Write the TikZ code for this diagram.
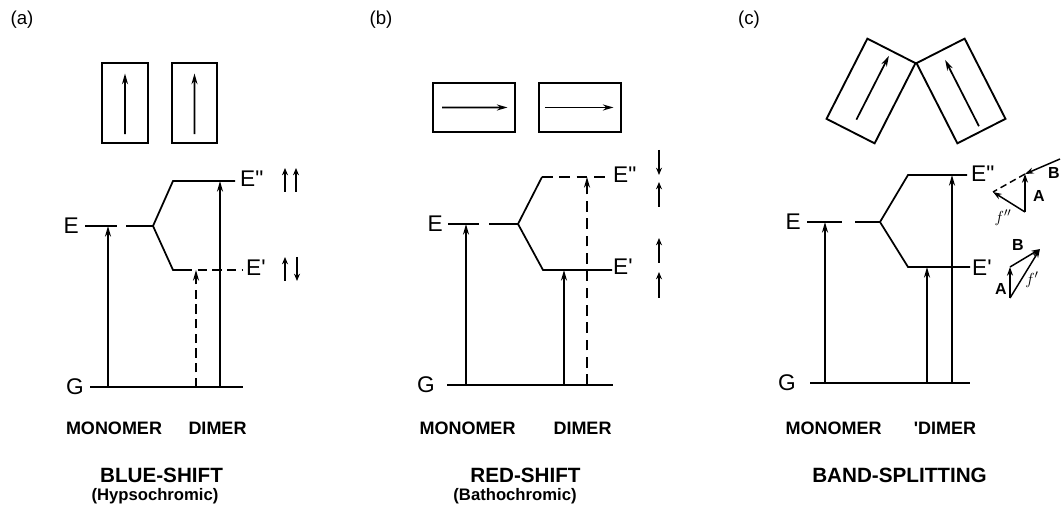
\documentclass[tikz,border=0pt]{standalone}
\usepackage{fontspec}
\setmainfont{Liberation Sans}
\usetikzlibrary{arrows.meta, calc}

\begin{document}
\begin{tikzpicture}[x=0.75pt, y=-0.75pt, line width=1.3pt,
  tag/.style={font=\fontsize{14}{16}\selectfont},
  lvl/.style={font=\fontsize{17}{20}\selectfont, inner sep=1pt},
  species/.style={font=\fontsize{13.5}{16}\selectfont\bfseries, inner sep=0pt},
  shiftlab/.style={font=\fontsize{15.5}{18}\selectfont\bfseries, inner sep=0pt},
  kind/.style={font=\fontsize{12.5}{14}\selectfont\bfseries, inner sep=0pt},
  vlab/.style={font=\fontsize{12}{14}\selectfont\bfseries, inner sep=0pt},
  flab/.style={font=\fontsize{13}{14}\selectfont, inner sep=0pt},
  dipbox/.style={draw, line width=1.4pt, inner sep=0pt},
  trans/.style={-{Stealth[length=8pt,width=4.5pt]}},
  spin/.style={-{Stealth[length=5.5pt,width=4.5pt]}, line width=1.6pt},
  vec/.style={-{Stealth[length=6.5pt,width=4.5pt]}, line width=1.1pt}]
  \useasboundingbox (0,0) rectangle (1061,505);

  % ---------------- (a) blue-shift
  \node[tag] (tagA) at (22,20) {(a)};
  \node[dipbox, minimum width=34pt, minimum height=60pt] (boxA1) at (125,103) {};
  \node[dipbox, minimum width=34pt, minimum height=60pt] (boxA2) at (194.5,103) {};
  \draw[trans] ($(boxA1.south)!0.12!(boxA1.north)$) -- ($(boxA1.south)!0.86!(boxA1.north)$);
  \draw[trans] ($(boxA2.south)!0.12!(boxA2.north)$) -- ($(boxA2.south)!0.86!(boxA2.north)$);

  \coordinate (aE0) at (85,226);   \coordinate (aE1) at (117,226);
  \coordinate (aE2) at (126,226);  \coordinate (aS) at (153,226);
  \coordinate (aU) at (173,181);   \coordinate (aU1) at (235,181);
  \coordinate (aD) at (173,270);   \coordinate (aD1) at (183,270);
  \coordinate (aD2) at (242,270);
  \coordinate (aG0) at (90,387);   \coordinate (aG1) at (243,387);
  \draw (aE0) -- (aE1);
  \draw (aE2) -- (aS) -- (aU) -- (aU1);
  \draw (aS) -- (aD) -- (aD1);
  \draw[dashed, dash pattern=on 7pt off 4pt] (aD1) -- (aD2);
  \draw (aG0) -- (aG1);
  \node[lvl, anchor=east] (aE) at (81,226) {E};
  \node[lvl, anchor=east] (aG) at (86,387) {G};
  \node[lvl, anchor=west] (aEpp) at (238,179) {E\textquotedbl};
  \node[lvl, anchor=west] (aEp) at (244,268) {E\textquotesingle};

  \coordinate (aM0) at (108,387);  \coordinate (aM1) at (108,226);
  \coordinate (aL0) at (196,387);  \coordinate (aL1) at (196,270);
  \coordinate (aH0) at (220,387);  \coordinate (aH1) at (220,181);
  \draw[trans] (aM0) -- (aM1);
  \draw[trans, dashed, dash pattern=on 7pt off 4pt] (aL0) -- (aL1);
  \draw[trans] (aH0) -- (aH1);

  \coordinate (as1) at (285,192);  \coordinate (as1t) at (285,168);
  \coordinate (as2) at (296,192);  \coordinate (as2t) at (296,168);
  \coordinate (as3) at (285,281);  \coordinate (as3t) at (285,257);
  \coordinate (as4) at (297,257);  \coordinate (as4t) at (297,281);
  \draw[spin] (as1) -- (as1t);
  \draw[spin] (as2) -- (as2t);
  \draw[spin] (as3) -- (as3t);
  \draw[spin] (as4) -- (as4t);

  \node[species] (aMon) at (114,428) {MONOMER};
  \node[species] (aDim) at (217.5,428) {DIMER};
  \node[shiftlab] (aShift) at (161.5,475) {BLUE-SHIFT};
  \node[kind] (aKind) at (155,496) {(Hypsochromic)};

  % ---------------- (b) red-shift
  \node[tag] (tagB) at (381,20) {(b)};
  \node[dipbox, minimum width=61.5pt, minimum height=37pt] (boxB1) at (474,107.5) {};
  \node[dipbox, minimum width=61.5pt, minimum height=37pt] (boxB2) at (580,107.5) {};
  \draw[trans] ($(boxB1.west)!0.12!(boxB1.east)$) -- ($(boxB1.west)!0.9!(boxB1.east)$);
  \draw[trans] ($(boxB2.west)!0.08!(boxB2.east)$) -- ($(boxB2.west)!0.9!(boxB2.east)$);

  \coordinate (bE0) at (448,224);  \coordinate (bE1) at (479,224);
  \coordinate (bE2) at (489,224);  \coordinate (bS) at (518,224);
  \coordinate (bU) at (542,177);   \coordinate (bU1) at (610,177);
  \coordinate (bD) at (543,270);   \coordinate (bD1) at (612,270);
  \coordinate (bG0) at (447,385);  \coordinate (bG1) at (613,385);
  \draw (bE0) -- (bE1);
  \draw (bE2) -- (bS) -- (bU);
  \draw[dashed, dash pattern=on 8pt off 5pt] (bU) -- (bU1);
  \draw (bS) -- (bD) -- (bD1);
  \draw (bG0) -- (bG1);
  \node[lvl, anchor=east] (bE) at (445,224) {E};
  \node[lvl, anchor=east] (bG) at (437,385) {G};
  \node[lvl, anchor=west] (bEpp) at (611,175) {E\textquotedbl};
  \node[lvl, anchor=west] (bEp) at (611,267) {E\textquotesingle};

  \coordinate (bM0) at (466,385);  \coordinate (bM1) at (466,224);
  \coordinate (bL0) at (564,385);  \coordinate (bL1) at (564,270);
  \coordinate (bH0) at (587,385);  \coordinate (bH1) at (587,177);
  \draw[trans] (bM0) -- (bM1);
  \draw[trans] (bL0) -- (bL1);
  \draw[trans, dashed, dash pattern=on 8pt off 5pt] (bH0) -- (bH1);

  \coordinate (bs1) at (659,150);  \coordinate (bs1t) at (659,175);
  \coordinate (bs2) at (659,207);  \coordinate (bs2t) at (659,182);
  \coordinate (bs3) at (659,263);  \coordinate (bs3t) at (659,238);
  \coordinate (bs4) at (659,298);  \coordinate (bs4t) at (659,272);
  \draw[spin] (bs1) -- (bs1t);
  \draw[spin] (bs2) -- (bs2t);
  \draw[spin] (bs3) -- (bs3t);
  \draw[spin] (bs4) -- (bs4t);

  \node[species] (bMon) at (467.5,428) {MONOMER};
  \node[species] (bDim) at (582.5,428) {DIMER};
  \node[shiftlab] (bShift) at (525.5,475) {RED-SHIFT};
  \node[kind] (bKind) at (515,496) {(Bathochromic)};

  % ---------------- (c) band-splitting
  \node[tag] (tagC) at (749,20) {(c)};
  \node[dipbox, minimum width=67.5pt, minimum height=40.5pt, rotate=63] (boxC1) at (871,91) {};
  \node[dipbox, minimum width=67.5pt, minimum height=40.5pt, rotate=117] (boxC2) at (961,91) {};
  \draw[trans] ($(boxC1.west)!0.15!(boxC1.east)$) -- ($(boxC1.west)!0.93!(boxC1.east)$);
  \draw[trans] ($(boxC2.west)!0.07!(boxC2.east)$) -- ($(boxC2.west)!0.88!(boxC2.east)$);

  \coordinate (cE0) at (807,222);  \coordinate (cE1) at (842,222);
  \coordinate (cE2) at (855,222);  \coordinate (cS) at (880,222);
  \coordinate (cU) at (908,175);   \coordinate (cU1) at (967,175);
  \coordinate (cD) at (908,267);   \coordinate (cD1) at (970,267);
  \coordinate (cG0) at (810,383);  \coordinate (cG1) at (970,383);
  \draw (cE0) -- (cE1);
  \draw (cE2) -- (cS) -- (cU) -- (cU1);
  \draw (cS) -- (cD) -- (cD1);
  \draw (cG0) -- (cG1);
  \node[lvl, anchor=east] (cE) at (803,222) {E};
  \node[lvl, anchor=east] (cG) at (798,383) {G};
  \node[lvl, anchor=west] (cEpp) at (969,174) {E\textquotedbl};
  \node[lvl, anchor=west] (cEp) at (970,268) {E\textquotesingle};

  \coordinate (cM0) at (825,383);  \coordinate (cM1) at (825,222);
  \coordinate (cL0) at (927,383);  \coordinate (cL1) at (927,267);
  \coordinate (cH0) at (952,383);  \coordinate (cH1) at (952,175);
  \draw[trans] (cM0) -- (cM1);
  \draw[trans] (cL0) -- (cL1);
  \draw[trans] (cH0) -- (cH1);

  % vector sums
  \coordinate (vA0) at (1025,212); \coordinate (vA1) at (1025,174);
  \coordinate (vB0) at (1060,159); \coordinate (vF1) at (993,192);
  \draw[vec] (vA0) -- (vA1);
  \draw[vec] (vB0) -- (vA1);
  \draw[dashed, dash pattern=on 5pt off 3pt, line width=1.1pt] (vA1) -- (vF1);
  \draw[vec] (vA0) -- (vF1);
  \node[vlab] (vA) at (1039,196) {A};
  \node[vlab] (vB) at (1054,173) {B};
  \node[flab] (vF) at (1003,218) {$f''$};

  \coordinate (wA0) at (1010,298); \coordinate (wA1) at (1010,267);
  \coordinate (wB1) at (1040,249);
  \draw[vec] (wA0) -- (wA1);
  \draw[vec] (wA1) -- (wB1);
  \draw[vec] (wA0) -- (wB1);
  \node[vlab] (wA) at (1001,289) {A};
  \node[vlab] (wB) at (1018,245) {B};
  \node[flab] (wF) at (1032,280) {$f'$};

  \node[species] (cMon) at (833.5,428) {MONOMER};
  \node[species] (cDim) at (945,428) {\textquotesingle DIMER};
  \node[shiftlab] (cShift) at (899.5,475) {BAND-SPLITTING};
\end{tikzpicture}
\end{document}
